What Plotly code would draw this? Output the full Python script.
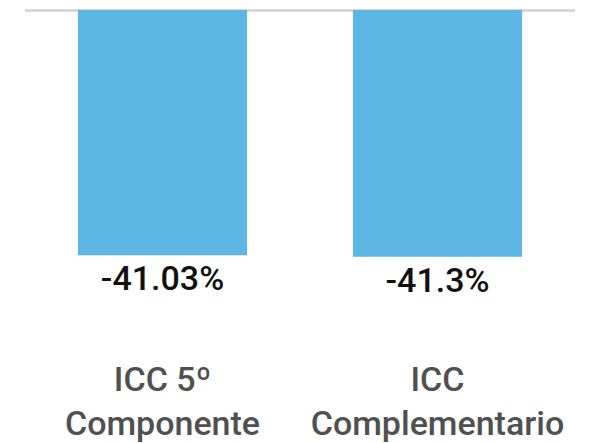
import plotly.graph_objects as go

categories = ["ICC 5º<br>Componente", "ICC<br>Complementario"]
values = [-41.03, -41.3]
value_labels = ["-41.03%", "-41.3%"]

fig = go.Figure(go.Bar(
    x=categories,
    y=values,
    text=value_labels,
    textposition="outside",
    textfont=dict(family="Roboto", size=34, color="#111111", weight=500),
    marker=dict(color="#5EB6E4", line=dict(width=0)),
    cliponaxis=False,
))

fig.update_layout(
    width=586, height=435,
    margin=dict(l=17, r=19, t=2, b=87),
    paper_bgcolor="white", plot_bgcolor="white",
    bargap=0.385,
    showlegend=False,
    font=dict(family="Roboto"),
)
fig.update_xaxes(
    tickfont=dict(family="Roboto", size=34, color="#505050", weight=500),
    showgrid=False, showline=False, ticks="", automargin=False,
)
fig.update_yaxes(
    range=[-57.9, 0],
    showticklabels=False, showgrid=False, automargin=False,
    zeroline=True, zerolinecolor="#D9D9D9", zerolinewidth=3,
)

fig.write_html("out.html")
